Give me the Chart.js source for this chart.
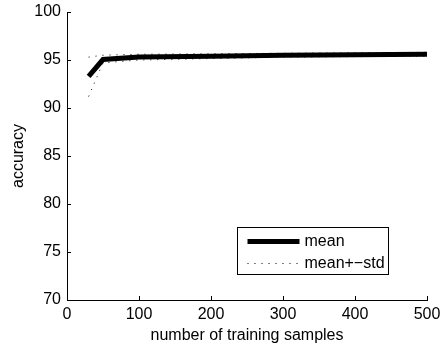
<!DOCTYPE html>
<html>
<head>
<meta charset="utf-8">
<script src="https://cdn.jsdelivr.net/npm/chart.js@4"></script>
<style>
  html, body { margin: 0; padding: 0; background: #fff; }
  #wrap { position: relative; width: 441px; height: 349px; }
</style>
</head>
<body>
<div id="wrap"><canvas id="chart" width="441" height="349"></canvas></div>
<script>
"use strict";

// Data
const samples = [30, 50, 100, 200, 300, 400, 500];
const meanAcc = [93.3, 95.05, 95.3, 95.4, 95.5, 95.55, 95.6];
const upperAcc = [95.3, 95.5, 95.6, 95.65, 95.7, 95.75, 95.8];
const lowerAcc = [91.2, 94.7, 95.0, 95.15, 95.3, 95.35, 95.4];
const xTicks = [0, 100, 200, 300, 400, 500];
const yTicks = [70, 75, 80, 85, 90, 95, 100];
const legendLabels = ["mean", "mean+\u2212std"];

const FONT = "'Liberation Sans', Arial, Helvetica, sans-serif";
const INK = "#000";

function pts(ys) {
  return samples.map((x, i) => ({ x, y: ys[i] }));
}

/**
 * Inward tick marks, like the original axes
 */
const inwardTicks = {
  id: "inwardTicks",
  afterDatasetsDraw(chart) {
    const { ctx, chartArea, scales } = chart;
    const len = 4;
    ctx.save();
    ctx.strokeStyle = INK;
    ctx.lineWidth = 1;
    ctx.beginPath();
    xTicks.forEach((v) => {
      const px = Math.round(scales.x.getPixelForValue(v)) + 0.5;
      ctx.moveTo(px, chartArea.bottom);
      ctx.lineTo(px, chartArea.bottom - len);
    });
    yTicks.forEach((v) => {
      const py = Math.round(scales.y.getPixelForValue(v)) + 0.5;
      ctx.moveTo(chartArea.left, py);
      ctx.lineTo(chartArea.left + len, py);
    });
    ctx.stroke();
    ctx.restore();
  },
};

/**
 * Boxed legend inside the lower right of the plot
 */
const boxLegend = {
  id: "boxLegend",
  afterDraw(chart) {
    const { ctx, chartArea } = chart;
    const right = chartArea.right - 38.5;
    const bottom = chartArea.bottom - 25.5;
    const w = 151;
    const h = 47;
    const left = right - w;
    const top = bottom - h;
    ctx.save();
    ctx.fillStyle = "#fff";
    ctx.fillRect(left, top, w, h);
    ctx.strokeStyle = INK;
    ctx.lineWidth = 1;
    ctx.strokeRect(left, top, w, h);

    const rows = [chart.data.datasets[0], chart.data.datasets[1]];
    rows.forEach((ds, i) => {
      const y = top + 14 + i * 22;
      ctx.beginPath();
      ctx.strokeStyle = ds.borderColor;
      ctx.lineWidth = ds.borderWidth;
      ctx.setLineDash(ds.borderDash || []);
      ctx.moveTo(left + 10, y);
      ctx.lineTo(left + 62, y);
      ctx.stroke();
      ctx.setLineDash([]);
      ctx.fillStyle = INK;
      ctx.font = "16px " + FONT;
      ctx.textBaseline = "middle";
      ctx.fillText(legendLabels[i], left + 67, y);
    });
    ctx.restore();
  },
};

new Chart(document.getElementById("chart"), {
  type: "line",
  data: {
    datasets: [
      {
        label: legendLabels[0],
        data: pts(meanAcc),
        borderColor: INK,
        borderWidth: 5,
        pointRadius: 0,
        tension: 0,
        borderJoinStyle: "miter",
        order: 0,
      },
      {
        label: legendLabels[1],
        data: pts(upperAcc),
        borderColor: INK,
        borderWidth: 1,
        borderDash: [1, 6],
        pointRadius: 0,
        tension: 0,
        order: 1,
      },
      {
        label: legendLabels[1],
        data: pts(lowerAcc),
        borderColor: INK,
        borderWidth: 1,
        borderDash: [1, 6],
        pointRadius: 0,
        tension: 0,
        order: 1,
      },
    ],
  },
  options: {
    responsive: false,
    animation: false,
    events: [],
    layout: { padding: { top: 12, right: 14, left: 0, bottom: 0 } },
    plugins: {
      legend: { display: false },
      tooltip: { enabled: false },
    },
    scales: {
      x: {
        type: "linear",
        min: 0,
        max: 500,
        afterBuildTicks: (s) => { s.ticks = xTicks.map((v) => ({ value: v })); },
        afterFit: (s) => {
          s.height = 49;
          s.paddingLeft = 0;
          s.paddingRight = 0;
        },
        grid: { drawOnChartArea: false, drawTicks: false },
        border: { display: true, color: INK, width: 1 },
        ticks: { color: INK, padding: 5, maxRotation: 0, font: { family: FONT, size: 16 } },
        title: {
          display: true,
          text: "number of training samples",
          color: INK,
          padding: { top: 0, bottom: 4 },
          font: { family: FONT, size: 16 },
        },
      },
      y: {
        type: "linear",
        min: 70,
        max: 100,
        afterBuildTicks: (s) => { s.ticks = yTicks.map((v) => ({ value: v })); },
        afterFit: (s) => {
          s.width = 67;
          s.paddingTop = 0;
          s.paddingBottom = 0;
        },
        grid: { drawOnChartArea: false, drawTicks: false },
        border: { display: true, color: INK, width: 1 },
        ticks: { color: INK, padding: 6, font: { family: FONT, size: 16 } },
        title: {
          display: true,
          text: "accuracy",
          color: INK,
          padding: { top: 9, bottom: 0 },
          font: { family: FONT, size: 16 },
        },
      },
    },
  },
  plugins: [inwardTicks, boxLegend],
});
</script>
</body>
</html>
